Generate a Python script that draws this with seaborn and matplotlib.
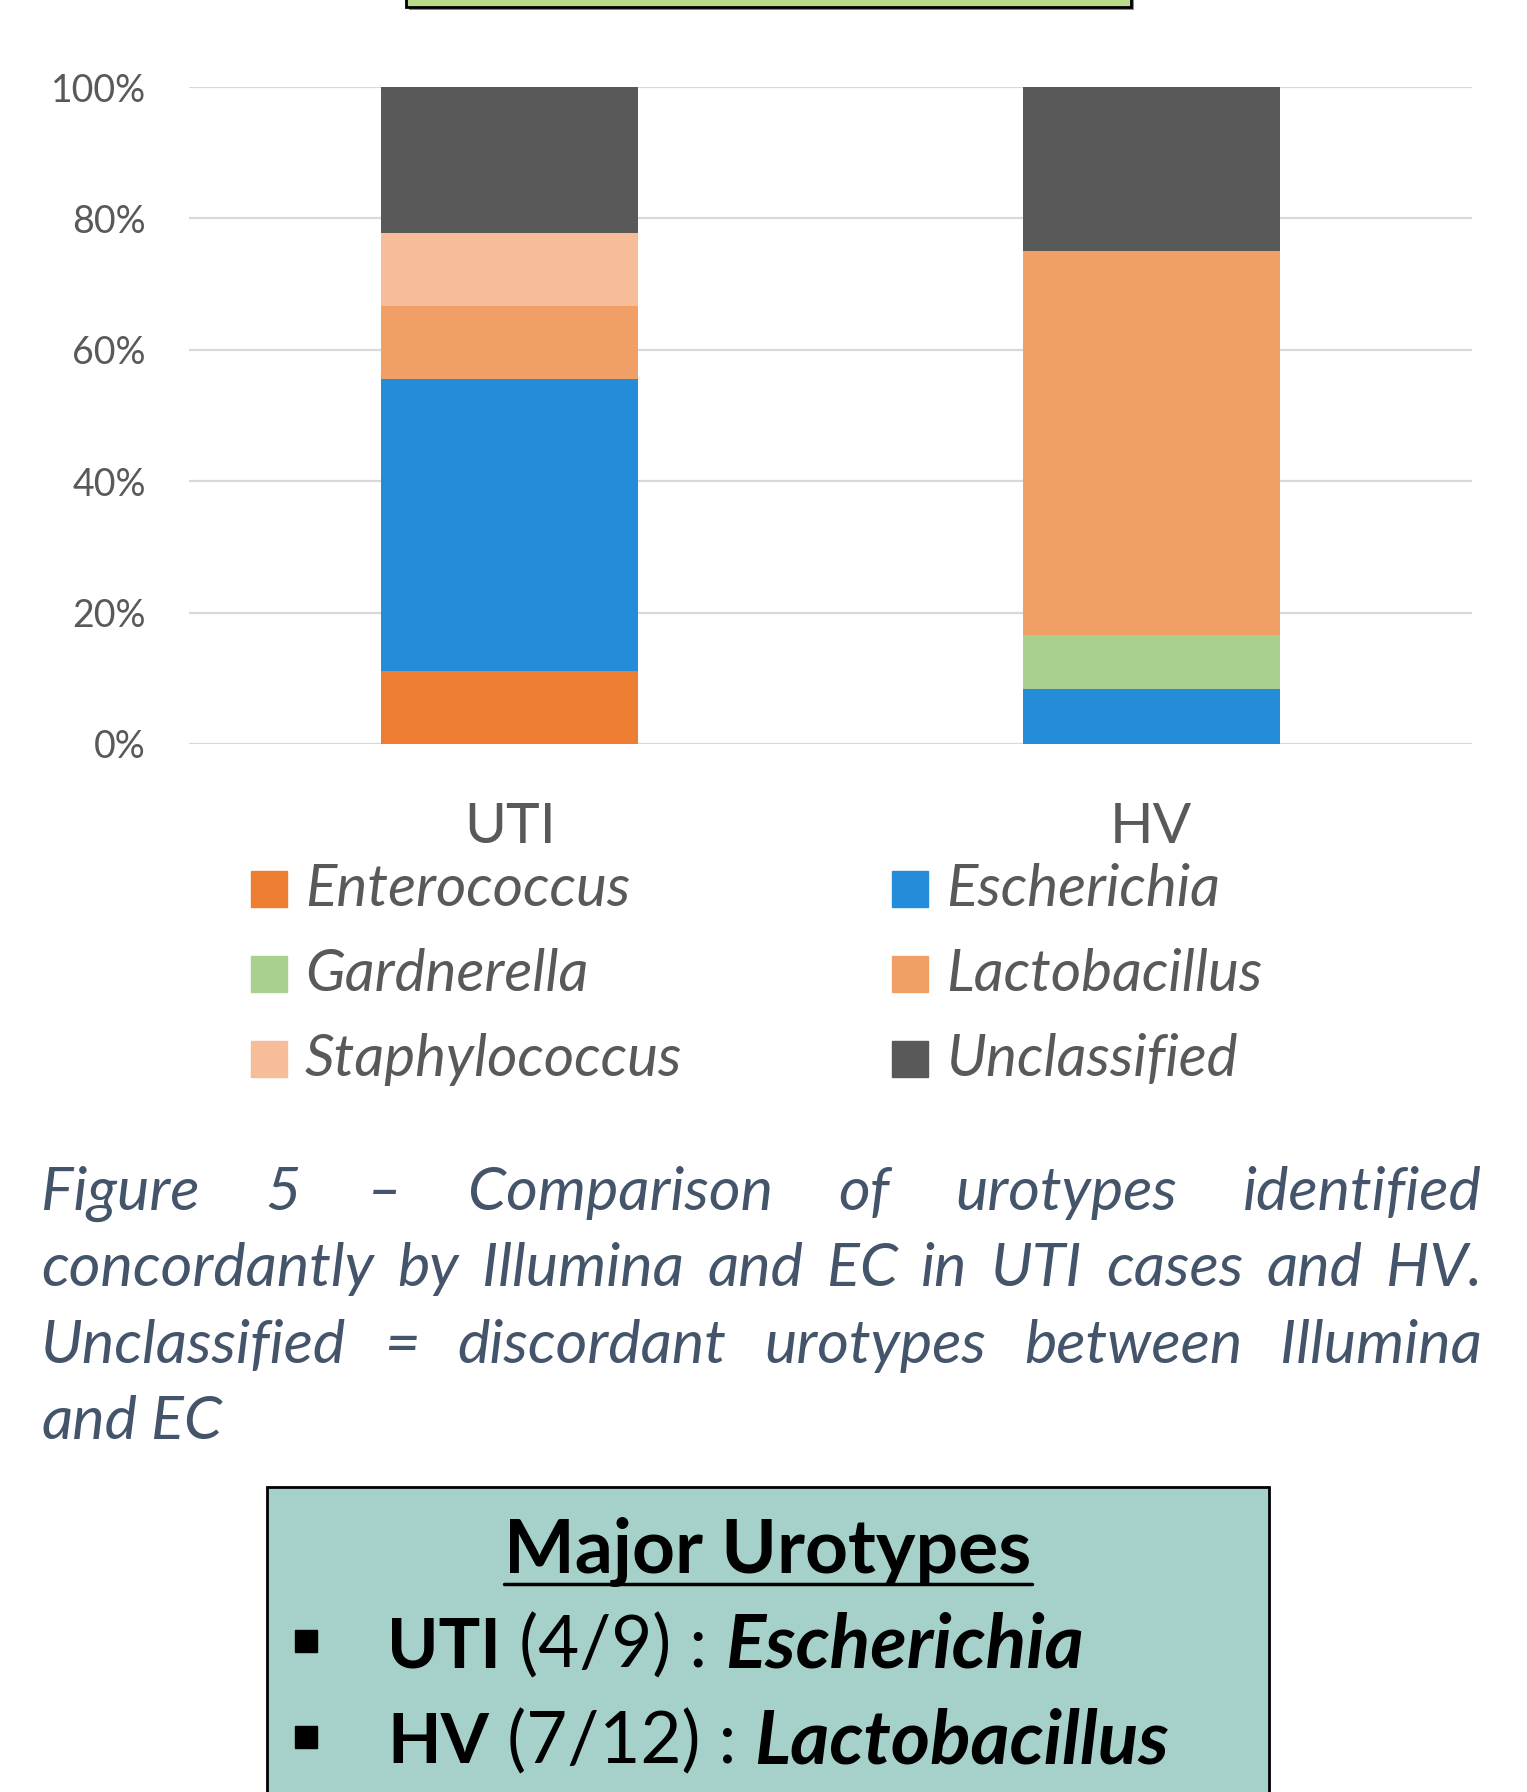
import matplotlib
matplotlib.use("Agg")
import matplotlib.pyplot as plt
from matplotlib.patches import Rectangle
from matplotlib.lines import Line2D
import numpy as np
import pandas as pd
import seaborn as sns

groups = ["UTI", "HV"]
genera = ["Enterococcus", "Escherichia", "Gardnerella", "Lactobacillus", "Staphylococcus", "Unclassified"]
# share of urotypes (%) per group, UTI n=9, HV n=12
uti_pct = [11.1, 44.5, 0.0, 11.1, 11.1, 22.2]
hv_pct = [0.0, 8.33, 8.33, 58.34, 0.0, 25.0]
colors = ["#ED7D31", "#258CDA", "#A9D08E", "#F09F67", "#F6BD98", "#595959"]
yticks = [0, 20, 40, 60, 80, 100]
ytick_labels = ["0%", "20%", "40%", "60%", "80%", "100%"]

caption_lines = [
    "Figure 5 \u2013 Comparison of urotypes identified",
    "concordantly by Illumina and EC in UTI cases and HV.",
    "Unclassified = discordant urotypes between Illumina",
    "and EC",
]
box_title = "Major Urotypes"
box_rows = [("UTI", " (4/9) : ", "Escherichia"), ("HV", " (7/12) : ", "Lactobacillus")]

W, H = 1527, 1792
GREY = "#595959"
CAP = "#44546A"


def fx(x):
    return x / W


def fy(y):
    return 1 - y / H


sns.set_theme(style="white")
plt.rcParams["font.family"] = ["Lato", "DejaVu Sans"]

df = pd.DataFrame({
    "group": np.repeat(groups, len(genera)),
    "genus": genera * len(groups),
    "pct": uti_pct + hv_pct,
})
df["cum"] = df.groupby("group")["pct"].cumsum()

fig = plt.figure(figsize=(W / 100, H / 100), dpi=100)
ax = fig.add_axes([fx(189), fy(744), fx(1472) - fx(189), fy(87) - fy(744)])

# stacked bars: draw cumulative heights from the top segment down
for genus, col in reversed(list(zip(genera, colors))):
    sub = df[df["genus"] == genus]
    sns.barplot(data=sub, x="group", y="cum", order=groups, color=col, saturation=1,
                width=0.4, errorbar=None, linewidth=0, ax=ax)

ax.set_ylim(0, 100)
ax.set_xlim(-0.5, 1.5)
ax.set_yticks(yticks)
ax.set_yticklabels(ytick_labels)
ax.set_xlabel("")
ax.set_ylabel("")
ax.yaxis.grid(True, color="#D9D9D9", linewidth=1.6)
ax.set_axisbelow(True)
for s in ax.spines.values():
    s.set_visible(False)
ax.tick_params(axis="y", length=0, pad=31, labelsize=27, labelcolor=GREY)
ax.tick_params(axis="x", length=0, pad=42, labelsize=41, labelcolor=GREY)

# legend, laid out as two columns
leg_rows = [889, 974, 1059]
leg_cols = [(251, 305), (892, 946)]
for i, (genus, col) in enumerate(zip(genera, colors)):
    r, c = i // 2, i % 2
    mx, tx = leg_cols[c]
    yc = leg_rows[r]
    fig.patches.append(Rectangle((fx(mx), fy(yc + 18)), fx(36), 36 / H, color=col,
                                 transform=fig.transFigure, figure=fig))
    fig.text(fx(tx), fy(yc + 17), genus, fontsize=42, style="italic", color=GREY,
             va="baseline", ha="left")

# top green box (cut off by the page edge)
fig.patches.append(Rectangle((fx(409), fy(10)), fx(725), 60 / H, facecolor="#8C8C8C",
                             edgecolor="none", transform=fig.transFigure, figure=fig))
fig.patches.append(Rectangle((fx(406), fy(7)), fx(725), 60 / H, facecolor="#B9DC8B",
                             edgecolor="black", linewidth=2, transform=fig.transFigure, figure=fig))

fig.canvas.draw()
rend = fig.canvas.get_renderer()


def width_of(s, **kw):
    t = fig.text(0, 0, s, **kw)
    w = t.get_window_extent(rend).width
    t.remove()
    return w


# justified caption
cap_kw = dict(fontsize=44, style="italic", color=CAP)
x0, x1 = 41, 1482
base = 1210
for k, line in enumerate(caption_lines):
    words = line.split(" ")
    ws = [width_of(w, **cap_kw) for w in words]
    yb = base + k * 76.4
    if k == len(caption_lines) - 1:
        gap = width_of("a b", **cap_kw) - width_of("ab", **cap_kw)
    else:
        gap = (x1 - x0 - sum(ws)) / (len(words) - 1)
    x = x0
    for w, wd in zip(words, ws):
        fig.text(fx(x), fy(yb), w, va="baseline", ha="left", **cap_kw)
        x += wd + gap

# bottom box
fig.patches.append(Rectangle((fx(267), fy(1810)), fx(1002), 323 / H, facecolor="#A6D1CA",
                             edgecolor="black", linewidth=2, transform=fig.transFigure, figure=fig))
title_kw = dict(fontsize=54, fontweight="bold", color="black")
tw = width_of(box_title, **title_kw)
fig.text(fx(768), fy(1573), box_title, ha="center", va="baseline", **title_kw)
fig.add_artist(Line2D([fx(768 - tw / 2), fx(768 + tw / 2)], [fy(1584), fy(1584)],
                      color="black", linewidth=2.5, transform=fig.transFigure))

row_base = [1667, 1763]
for (grp, frac, genus), yb in zip(box_rows, row_base):
    fig.patches.append(Rectangle((fx(295), fy(yb - 15)), fx(22), 22 / H, color="black",
                                 transform=fig.transFigure, figure=fig))
    parts = [(grp, dict(fontsize=50, fontweight="bold")),
             (frac, dict(fontsize=51)),
             (genus, dict(fontsize=54, fontweight="bold", style="italic"))]
    x = 387
    for s, kw in parts:
        fig.text(fx(x), fy(yb), s, ha="left", va="baseline", color="black", **kw)
        x += width_of(s, **kw)

fig.savefig("out.png", dpi=100)
